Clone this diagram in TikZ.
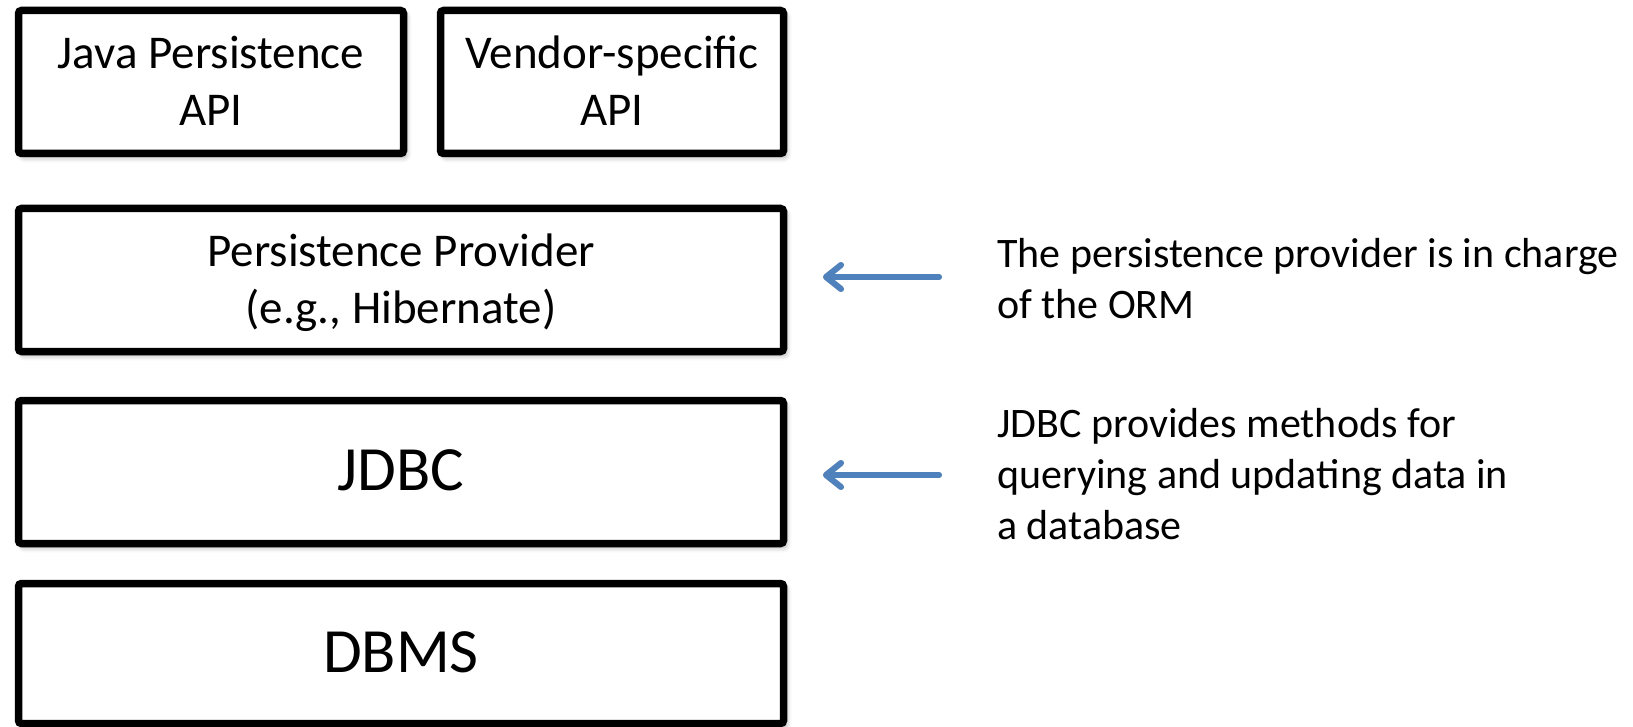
\documentclass[tikz,border=0pt]{standalone}
\usepackage{fontspec}
\setmainfont{Carlito}
\usetikzlibrary{arrows.meta,shadows.blur}
\definecolor{arrowblue}{RGB}{79,129,189}
\begin{document}
\begin{tikzpicture}[x=1pt,y=-1pt,
  layer/.style={draw=black, line width=7.5pt, rounded corners=3pt, fill=white,
    inner sep=0pt,
    blur shadow={shadow xshift=3pt, shadow yshift=-4pt, shadow blur radius=5pt, shadow opacity=35}},
  boxtxt/.style={inner sep=0pt, align=center, yshift=-3.5pt,
    font=\fontsize{47}{57.3}\selectfont},
  bigtxt/.style={inner sep=0pt, align=center, yshift=-3.5pt,
    font=\fontsize{63}{76.9}\selectfont},
  note/.style={inner sep=0pt, align=left, anchor=north west,
    font=\fontsize{42}{51.2}\selectfont},
  pointer/.style={draw=arrowblue, line width=6pt, line cap=round,
    -{Straight Barb[length=15pt, width=24pt, round]}},
  pointershade/.style={pointer, draw=black, opacity=0.08}
]
\useasboundingbox (0,0) rectangle (1633,727);

% API layer
\node[layer, minimum width=385pt, minimum height=143pt] (jpa) at (211,82) {};
\node[layer, minimum width=343pt, minimum height=143pt] (vendor) at (612,82) {};
\node[boxtxt] (jpatext) at (jpa.center) {\strut Java Persistence\\\strut API};
\node[boxtxt] (vendortext) at (vendor.center) {\strut Vendor-specific\\\strut API};

% provider, JDBC and DBMS layers
\node[layer, minimum width=765pt, minimum height=143pt] (provider) at (401,280) {};
\node[boxtxt] (providertext) at (provider.center) {\strut Persistence Provider\\\strut (e.g., Hibernate)};
\node[layer, minimum width=765pt, minimum height=143pt] (jdbc) at (401,472) {};
\node[bigtxt] (jdbctext) at (jdbc.center) {\strut JDBC};
\node[layer, minimum width=765pt, minimum height=140pt] (dbms) at (401,653.5) {};
\node[bigtxt] (dbmstext) at (dbms.center) {\strut DBMS};

% explanatory notes
\node[note] (ormnote) at (997,231) {\strut The persistence provider is in charge\\\strut of the ORM};
\node[note] (jdbcnote) at (997,401) {\strut JDBC provides methods for\\\strut querying and updating data in\\\strut a database};

% pointers with a soft shadow
\coordinate (ormfrom) at (939,277);
\coordinate (ormto) at (823,277);
\coordinate (jdbcfrom) at (939,475);
\coordinate (jdbcto) at (823,475);
\foreach \dx/\dy in {2/2,3/4,4/3} {
  \draw[pointershade, xshift=\dx pt, yshift=-\dy pt] (ormfrom) -- (ormto);
  \draw[pointershade, xshift=\dx pt, yshift=-\dy pt] (jdbcfrom) -- (jdbcto);
}
\draw[pointer] (ormfrom) -- (ormto);
\draw[pointer] (jdbcfrom) -- (jdbcto);
\end{tikzpicture}
\end{document}
